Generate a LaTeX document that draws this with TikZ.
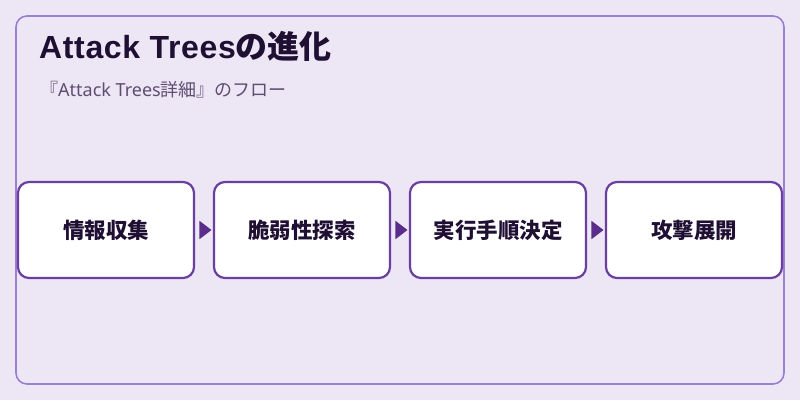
\documentclass[tikz,border=0pt]{standalone}
\usepackage{fontspec}
\usetikzlibrary{shapes.geometric}
\setmainfont{Noto Sans CJK JP}
\newfontfamily\latin{Noto Sans}
\newfontfamily\latinb{Liberation Sans}[LetterSpace=2]
\definecolor{bgc}{HTML}{EDE6F5}
\definecolor{framec}{HTML}{9C7FCF}
\definecolor{boxc}{HTML}{6B3FA0}
\definecolor{arrc}{HTML}{5A2D8A}
\definecolor{titc}{HTML}{1E0F33}
\definecolor{subc}{HTML}{5E4E72}
\begin{document}
\begin{tikzpicture}[x=1pt,y=-1pt,
  stepbox/.style={draw=boxc,line width=2.2pt,fill=white,rounded corners=11pt,
    minimum width=176pt,minimum height=96pt,inner sep=0pt,
    font=\fontsize{21.5}{24}\selectfont\bfseries,text=titc},
  tri/.style={fill=arrc,draw=none,isosceles triangle,isosceles triangle apex angle=75,
    minimum height=12pt,minimum width=16pt,inner sep=0pt,shape border rotate=0}]
\fill[bgc] (0,0) rectangle (800,400);
\useasboundingbox (0,0) rectangle (800,400);
\draw[framec,line width=1.6pt,rounded corners=11pt] (16,16) rectangle (784,384);
\node[anchor=base west,inner sep=0pt,text=titc,font=\fontsize{32}{36}\selectfont\bfseries] (title) at (39,58.7) {{\latinb\bfseries\fontsize{32}{36}\selectfont Attack Trees}の進化};
\node[anchor=base west,inner sep=0pt,text=subc,font=\fontsize{18}{21}\selectfont] (sub) at (40,96) {『{\latin Attack Trees}詳細』のフロー};
\node[stepbox] (s1) at (106,230) {情報収集};
\node[stepbox] (s2) at (302,230) {脆弱性探索};
\node[stepbox] (s3) at (498,230) {実行手順決定};
\node[stepbox] (s4) at (694,230) {攻撃展開};
\foreach \a/\b in {s1/s2,s2/s3,s3/s4}{
  \path (\a.east) -- (\b.west) node[midway,tri] (t\a) {};
}
\end{tikzpicture}
\end{document}
